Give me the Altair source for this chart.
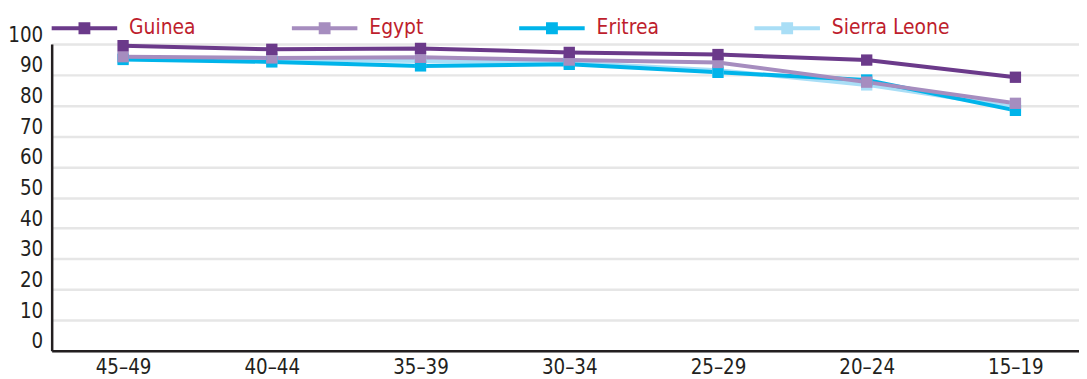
import altair as alt
import pandas as pd

age_groups = ["45–49", "40–44", "35–39", "30–34", "25–29", "20–24", "15–19"]
series_names = ["Guinea", "Egypt", "Eritrea", "Sierra Leone"]
guinea = [99.5, 98.3, 98.6, 97.3, 96.6, 94.8, 89.2]
egypt = [95.9, 95.5, 95.7, 94.8, 94.0, 87.6, 80.7]
eritrea = [95.0, 94.2, 92.9, 93.4, 90.8, 88.3, 78.4]
sierra_leone = [95.5, 95.0, 94.5, 94.0, 91.5, 86.7, 79.5]
colors = ["#6B3A8A", "#A68DBF", "#00B4EA", "#A9DEF6"]
y_ticks = [0, 10, 20, 30, 40, 50, 60, 70, 80, 90, 100]

# draw order: Sierra Leone first, Guinea on top
values = {"Guinea": guinea, "Egypt": egypt, "Eritrea": eritrea, "Sierra Leone": sierra_leone}
rows = []
for rank, name in enumerate(["Sierra Leone", "Eritrea", "Egypt", "Guinea"]):
    for a, v in zip(age_groups, values[name]):
        rows.append({"age": a, "value": v, "country": name, "rank": rank})
df = pd.DataFrame(rows)

FONT = "DejaVu Sans Condensed, Liberation Sans Narrow, Roboto"

x = alt.X("age:N", sort=age_groups, title=None,
          scale=alt.Scale(type="point", padding=0.4538, align=0.529),
          axis=alt.Axis(labelAngle=0, ticks=False, grid=False, labelPadding=7,
                        labelFontSize=20.5, labelColor="#231F20", labelFont=FONT,
                        domainColor="#231F20", domainWidth=2.5))
y = alt.Y("value:Q", title=None,
          scale=alt.Scale(domain=[0, 100], nice=False, zero=True),
          axis=alt.Axis(values=y_ticks, ticks=False, grid=True, gridColor="#E6E6E6",
                        gridWidth=2.5, labelPadding=9, labelFontSize=20.5,
                        labelColor="#231F20", labelFont=FONT, labelBaseline="alphabetic",
                        labelOffset=-3, domainColor="#231F20", domainWidth=2.5))

sym = "M-1,0H1M-0.12,-0.12H0.12V0.12H-0.12Z"
color = alt.Color("country:N", scale=alt.Scale(domain=series_names, range=colors),
                  legend=alt.Legend(title=None, orient="none", direction="horizontal",
                                    legendX=-2, legendY=-51, symbolType=sym,
                                    symbolSize=4356, symbolStrokeWidth=4,
                                    labelFontSize=21, labelColor="#BE1E2D", labelFont=FONT,
                                    labelOffset=10, columnPadding=88))

lines = alt.Chart(df).mark_line(strokeWidth=4).encode(x=x, y=y, color=color, detail="rank:O")
points = alt.Chart(df).mark_square(size=130, opacity=1, filled=True).encode(
    x=x, y=y, color=color, order=alt.Order("rank:Q"))

chart = alt.layer(lines, points).properties(
    width=1035, height=309,
    autosize=alt.AutoSizeParams(type="none"),
    padding={"left": 44, "top": 35, "right": 0, "bottom": 27},
).configure_view(stroke=None).configure(background="white")

chart.save("out.html", embed_options={"renderer": "svg", "actions": False})
